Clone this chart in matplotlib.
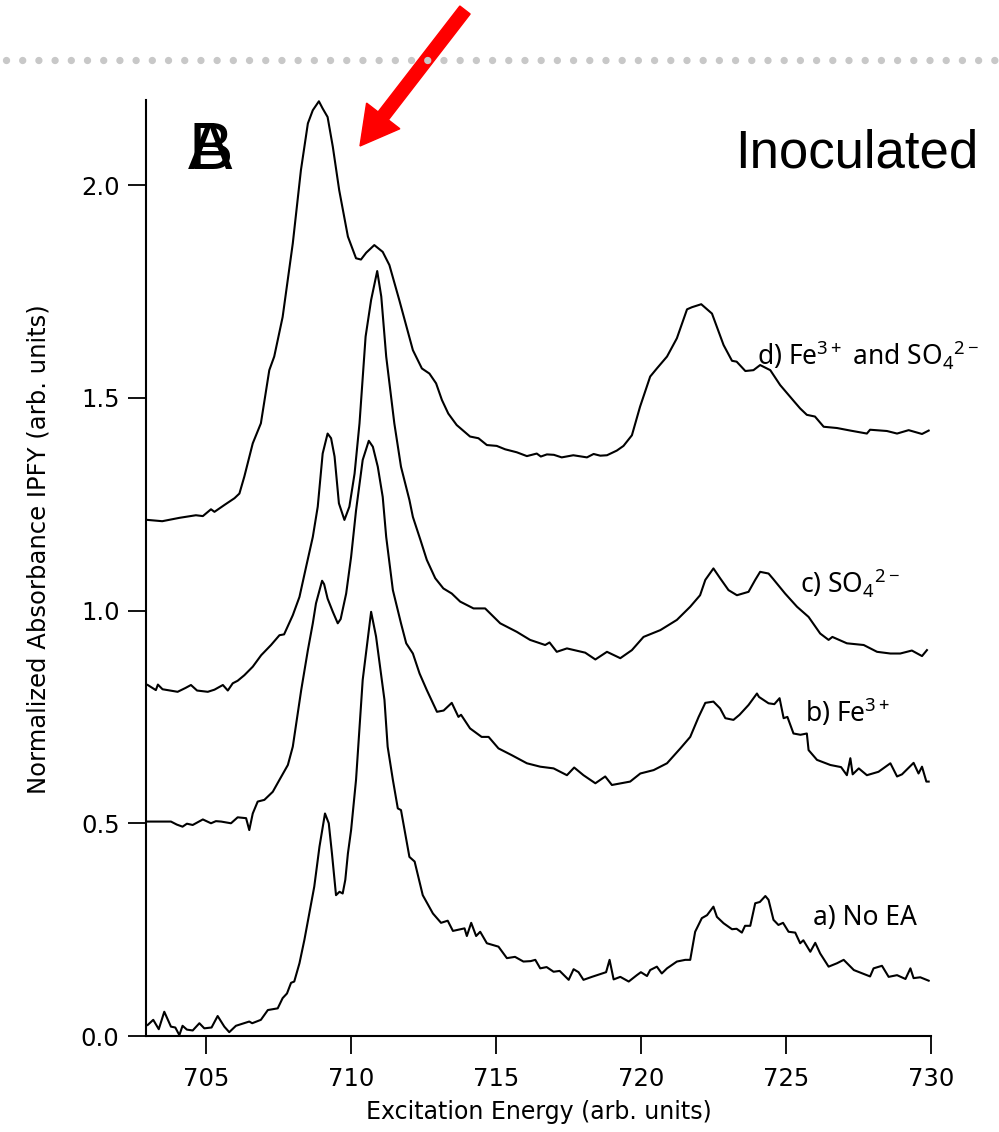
import matplotlib
matplotlib.use("Agg")
from matplotlib import pyplot as plt
from matplotlib.lines import Line2D
from matplotlib.patches import FancyArrow
from matplotlib.transforms import IdentityTransform
import numpy as np

plt.rcParams['mathtext.fontset'] = 'custom'
plt.rcParams['mathtext.rm'] = 'Noto Sans'
plt.rcParams['mathtext.it'] = 'Noto Sans'
plt.rcParams['mathtext.bf'] = 'Noto Sans'

# a) No EA
energy_a = [703.0, 703.19, 703.38, 703.57, 703.8, 703.95, 704.09, 704.2, 704.35, 704.55, 704.78, 704.95,
            705.2, 705.41, 705.64, 705.81, 706.04, 706.5, 706.6, 706.9, 707.14, 707.48, 707.65, 707.8,
            707.94, 708.05, 708.23, 708.4, 708.57, 708.74, 708.92, 709.11, 709.24, 709.35, 709.49, 709.61,
            709.72, 709.81, 709.9, 710.01, 710.18, 710.41, 710.7, 710.87, 711.16, 711.27, 711.45, 711.62,
            711.73, 712.02, 712.2, 712.48, 712.83, 713.11, 713.34, 713.52, 713.92, 714.0, 714.15, 714.32,
            714.46, 714.69, 715.09, 715.38, 715.66, 715.95, 716.2, 716.36, 716.53, 716.75, 716.99, 717.2,
            717.51, 717.68, 717.85, 718.02, 718.31, 718.66, 718.8, 718.92, 719.06, 719.29, 719.58, 719.86,
            720.0, 720.21, 720.32, 720.55, 720.72, 720.9, 721.24, 721.53, 721.7, 721.87, 722.1, 722.28,
            722.5, 722.62, 722.85, 723.14, 723.3, 723.48, 723.59, 723.77, 723.94, 724.1, 724.29, 724.4,
            724.57, 724.74, 724.9, 725.09, 725.32, 725.49, 725.6, 725.84, 726.01, 726.18, 726.47, 726.76,
            726.99, 727.34, 727.79, 727.9, 728.02, 728.31, 728.54, 728.83, 729.12, 729.29, 729.4, 729.63,
            729.92]
absorb_a = [0.026, 0.038, 0.016, 0.057, 0.022, 0.02, 0.002, 0.024, 0.015, 0.013, 0.03, 0.018,
            0.02, 0.047, 0.022, 0.009, 0.024, 0.034, 0.03, 0.038, 0.061, 0.065, 0.089, 0.1,
            0.125, 0.128, 0.171, 0.226, 0.288, 0.351, 0.445, 0.523, 0.5, 0.429, 0.331, 0.339,
            0.335, 0.367, 0.429, 0.484, 0.602, 0.837, 0.997, 0.939, 0.79, 0.68, 0.602, 0.535,
            0.531, 0.421, 0.41, 0.331, 0.288, 0.266, 0.271, 0.247, 0.253, 0.235, 0.266, 0.235,
            0.245, 0.218, 0.21, 0.183, 0.186, 0.175, 0.176, 0.179, 0.159, 0.162, 0.151, 0.153,
            0.132, 0.157, 0.15, 0.132, 0.139, 0.147, 0.15, 0.179, 0.133, 0.139, 0.128, 0.143,
            0.15, 0.141, 0.155, 0.163, 0.147, 0.159, 0.175, 0.179, 0.179, 0.245, 0.277, 0.284,
            0.304, 0.28, 0.265, 0.251, 0.252, 0.243, 0.259, 0.259, 0.312, 0.315, 0.329, 0.32,
            0.273, 0.261, 0.266, 0.245, 0.243, 0.218, 0.225, 0.198, 0.219, 0.194, 0.163, 0.171,
            0.179, 0.155, 0.143, 0.14, 0.159, 0.165, 0.139, 0.143, 0.134, 0.159, 0.136, 0.138,
            0.13]

# b) Fe3+
energy_b = [703.0, 703.8, 704.0, 704.2, 704.35, 704.55, 704.9, 705.18, 705.35, 705.53, 705.87, 706.1,
            706.39, 706.5, 706.62, 706.79, 707.02, 707.31, 707.54, 707.83, 708.0, 708.17, 708.29, 708.52,
            708.69, 708.8, 709.01, 709.08, 709.2, 709.38, 709.55, 709.65, 709.84, 710.01, 710.18, 710.41,
            710.62, 710.76, 710.93, 711.1, 711.22, 711.45, 711.73, 711.91, 712.14, 712.37, 712.62, 712.97,
            713.2, 713.48, 713.71, 713.8, 714.11, 714.51, 714.75, 715.09, 715.55, 716.07, 716.53, 716.99,
            717.45, 717.7, 718.02, 718.43, 718.77, 719.0, 719.63, 719.98, 720.44, 720.9, 721.36, 721.7,
            721.99, 722.22, 722.5, 722.73, 722.91, 723.19, 723.4, 723.71, 724.0, 724.07, 724.4, 724.6,
            724.78, 724.92, 725.05, 725.26, 725.5, 725.72, 725.78, 726.07, 726.53, 726.9, 727.1, 727.22,
            727.3, 727.51, 727.79, 728.19, 728.6, 728.83, 729.0, 729.4, 729.57, 729.69, 729.84, 729.92]
absorb_b = [0.504, 0.504, 0.497, 0.492, 0.499, 0.496, 0.509, 0.5, 0.505, 0.504, 0.5, 0.514,
            0.512, 0.484, 0.523, 0.551, 0.555, 0.574, 0.602, 0.637, 0.68, 0.758, 0.813, 0.907,
            0.97, 1.017, 1.07, 1.062, 1.028, 0.997, 0.97, 0.98, 1.04, 1.126, 1.235, 1.354,
            1.399, 1.385, 1.338, 1.267, 1.173, 1.048, 0.97, 0.923, 0.899, 0.852, 0.813, 0.762,
            0.765, 0.783, 0.75, 0.755, 0.723, 0.703, 0.703, 0.676, 0.66, 0.641, 0.633, 0.629,
            0.613, 0.631, 0.613, 0.594, 0.61, 0.59, 0.598, 0.617, 0.625, 0.641, 0.676, 0.703,
            0.75, 0.783, 0.786, 0.77, 0.747, 0.743, 0.755, 0.778, 0.805, 0.797, 0.782, 0.78,
            0.794, 0.747, 0.75, 0.711, 0.708, 0.711, 0.672, 0.649, 0.637, 0.632, 0.613, 0.653,
            0.615, 0.629, 0.613, 0.621, 0.641, 0.61, 0.615, 0.642, 0.617, 0.633, 0.598, 0.598]

# c) SO4 2-
energy_c = [703.0, 703.28, 703.35, 703.51, 704.03, 704.3, 704.49, 704.7, 705.07, 705.3, 705.59, 705.76,
            705.93, 706.1, 706.33, 706.62, 706.91, 707.25, 707.54, 707.7, 708.0, 708.23, 708.46, 708.69,
            708.86, 709.03, 709.2, 709.32, 709.44, 709.59, 709.78, 709.95, 710.13, 710.3, 710.51, 710.7,
            710.91, 711.05, 711.22, 711.5, 711.73, 712.02, 712.14, 712.4, 712.62, 712.91, 713.19, 713.48,
            713.77, 714.23, 714.63, 715.15, 715.72, 716.18, 716.7, 716.85, 717.1, 717.45, 718.08, 718.43,
            718.83, 719.29, 719.69, 720.09, 720.67, 721.24, 721.7, 722.04, 722.22, 722.5, 722.73, 723.02,
            723.31, 723.71, 723.94, 724.11, 724.4, 724.55, 724.97, 725.38, 725.78, 726.18, 726.47, 726.6,
            727.1, 727.68, 728.14, 728.6, 728.94, 729.34, 729.69, 729.86]
absorb_c = [0.825, 0.813, 0.826, 0.815, 0.809, 0.818, 0.825, 0.812, 0.809, 0.814, 0.825, 0.812,
            0.829, 0.835, 0.848, 0.868, 0.895, 0.919, 0.942, 0.944, 0.989, 1.032, 1.103, 1.173,
            1.244, 1.369, 1.416, 1.405, 1.362, 1.252, 1.213, 1.244, 1.322, 1.44, 1.644, 1.73,
            1.798, 1.738, 1.597, 1.44, 1.338, 1.26, 1.22, 1.166, 1.119, 1.076, 1.052, 1.04,
            1.021, 1.005, 1.005, 0.97, 0.95, 0.931, 0.919, 0.925, 0.903, 0.911, 0.901, 0.885,
            0.903, 0.888, 0.907, 0.938, 0.954, 0.978, 1.009, 1.036, 1.072, 1.099, 1.076, 1.048,
            1.036, 1.044, 1.072, 1.091, 1.087, 1.075, 1.04, 1.009, 0.985, 0.946, 0.931, 0.938,
            0.923, 0.919, 0.903, 0.899, 0.899, 0.906, 0.893, 0.907]

# d) Fe3+ and SO4 2-
energy_d = [703.0, 703.5, 704.1, 704.66, 704.9, 705.18, 705.3, 705.64, 705.99, 706.16, 706.33, 706.62,
            706.9, 707.19, 707.36, 707.65, 708.0, 708.28, 708.52, 708.69, 708.9, 709.03, 709.2, 709.38,
            709.6, 709.9, 710.18, 710.35, 710.53, 710.81, 711.1, 711.33, 711.67, 712.14, 712.45, 712.71,
            712.94, 713.14, 713.36, 713.65, 714.11, 714.4, 714.69, 715.03, 715.32, 715.72, 716.07, 716.41,
            716.55, 716.76, 717.0, 717.27, 717.67, 718.14, 718.37, 718.6, 718.83, 719.17, 719.4, 719.69,
            719.97, 720.32, 720.55, 720.9, 721.24, 721.59, 721.76, 722.08, 722.45, 722.85, 723.14, 723.3,
            723.6, 723.88, 724.11, 724.46, 724.8, 725.15, 725.3, 725.49, 725.72, 726.0, 726.3, 726.76,
            727.22, 727.79, 727.9, 728.48, 728.83, 729.23, 729.69, 729.92]
absorb_d = [1.213, 1.21, 1.218, 1.224, 1.222, 1.238, 1.232, 1.248, 1.264, 1.275, 1.315, 1.393,
            1.44, 1.565, 1.597, 1.69, 1.863, 2.035, 2.145, 2.176, 2.197, 2.18, 2.16, 2.09,
            1.988, 1.879, 1.828, 1.825, 1.841, 1.859, 1.843, 1.812, 1.73, 1.612, 1.569, 1.557,
            1.534, 1.495, 1.463, 1.436, 1.409, 1.405, 1.389, 1.387, 1.379, 1.372, 1.363, 1.369,
            1.362, 1.367, 1.366, 1.36, 1.365, 1.36, 1.368, 1.364, 1.365, 1.376, 1.387, 1.412,
            1.479, 1.55, 1.569, 1.597, 1.64, 1.708, 1.713, 1.72, 1.698, 1.624, 1.587, 1.585,
            1.563, 1.565, 1.577, 1.565, 1.53, 1.502, 1.49, 1.475, 1.46, 1.456, 1.432, 1.429,
            1.423, 1.416, 1.425, 1.422, 1.416, 1.424, 1.415, 1.423]

series = [(energy_a, absorb_a), (energy_b, absorb_b), (energy_c, absorb_c), (energy_d, absorb_d)]

labels = ['a) No EA', 'b) Fe$^{3+}$', 'c) SO$_4{}^{2-}$', 'd) Fe$^{3+}$ and SO$_4{}^{2-}$']
label_x = [813, 805, 800, 757]      # pixel left edges
label_y = [918, 713, 583, 355]      # pixel centres (from top)

yticks = [0.0, 0.5, 1.0, 1.5, 2.0]
xticks = [705, 710, 715, 720, 725, 730]

W, H = 999, 1132
fig = plt.figure(figsize=(W / 100, H / 100), dpi=100)
ax = fig.add_axes([146 / W, 1 - 1036 / H, (931 - 146) / W, (1036 - 100) / H])

for e, v in series:
    ax.plot(e, v, color='black', lw=1.5)

ax.set_xlim(702.94, 730)
ax.set_ylim(0, 2.2)
ax.spines['top'].set_visible(False)
ax.spines['right'].set_visible(False)
ax.spines['left'].set_linewidth(1.5)
ax.spines['bottom'].set_linewidth(1.5)
ax.set_xticks(xticks)
ax.set_yticks(yticks)
ax.set_yticklabels(['%.1f' % t for t in yticks])
ax.tick_params(direction='out', length=13, width=1.3, labelsize=17.5, pad=6)
ax.tick_params(axis='x', pad=9)
ax.set_xlabel('Excitation Energy (arb. units)', fontsize=17, labelpad=7)
ax.set_ylabel('Normalized Absorbance IPFY (arb. units)', fontsize=17.5)
ax.yaxis.set_label_coords(-0.122, 0.52)

for lab, lx, ly in zip(labels, label_x, label_y):
    fig.text(lx / W, 1 - ly / H, lab, fontsize=19, family='Noto Sans', ha='left', va='center')

fig.text(978 / W, 1 - 168 / H, 'Inoculated', fontsize=38, family='Liberation Sans',
         ha='right', va='baseline')
for ch in ['B', 'A']:
    fig.text(188 / W, 1 - 169 / H, ch, fontsize=48, family='Liberation Sans',
             ha='left', va='baseline')

# dotted separator
fig.add_artist(Line2D([6 / W, 1.0], [1 - 60 / H, 1 - 60 / H], transform=fig.transFigure,
                      color='#c8c8c8', lw=5.3, linestyle=(0, (0.001, 2.2)),
                      dash_capstyle='round'))

# red arrow (pixel coordinates)
fig.add_artist(FancyArrow(465, H - 10, 360 - 465, (H - 146) - (H - 10), width=13,
                          head_width=42, head_length=38, length_includes_head=True,
                          color='#ff0000', transform=IdentityTransform()))

fig.savefig('out.png', dpi=100)
